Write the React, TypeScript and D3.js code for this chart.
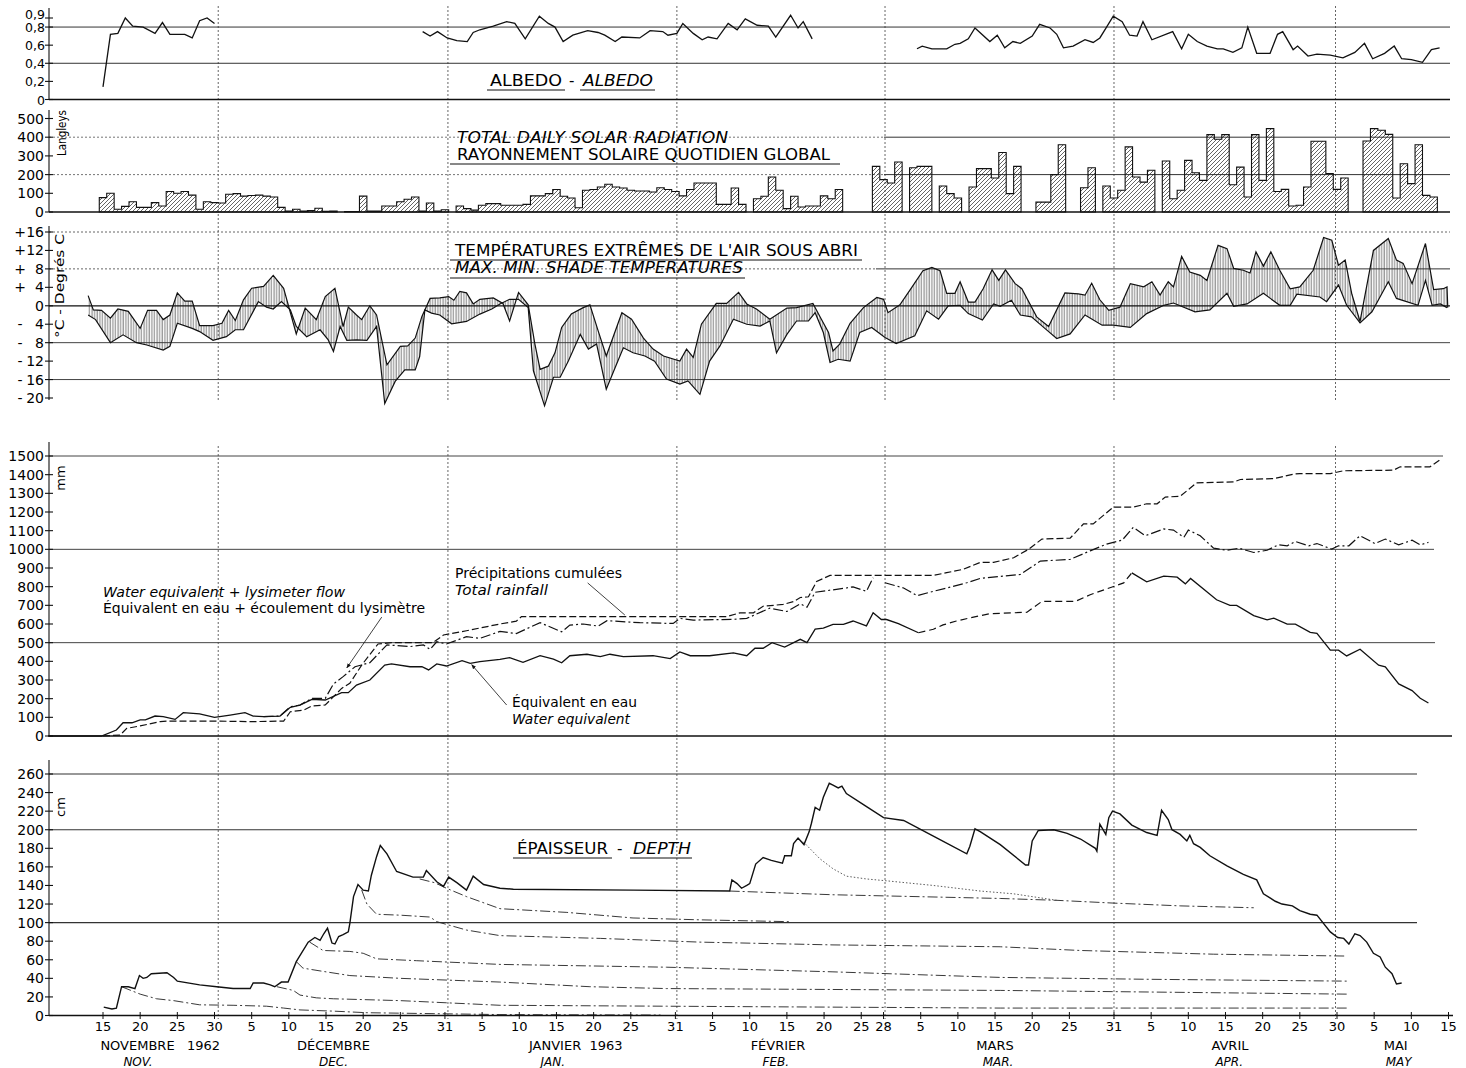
import React from 'react';
import * as d3 from 'd3';

type P = [number, number];

// ---------- ALBEDO ----------
const albedoNov: P[] = [[15,0.14],[16,0.72],[17,0.73],[18,0.9],[19,0.81],[20.4,0.8],[22,0.73],[23,0.85],[24,0.72],[26,0.72],[27,0.68],[28,0.87],[29,0.9],[30,0.84]];
const albedoDecFeb: P[] = [[58,0.75],[59,0.7],[60,0.75],[61.3,0.68],[62.6,0.65],[64,0.64],[64.8,0.74],[65.7,0.77],[67.5,0.81],[69.3,0.86],[70.4,0.84],[71.8,0.67],[73.7,0.92],[74.9,0.84],[75.8,0.8],[76.9,0.64],[78.2,0.71],[80.2,0.76],[81.6,0.74],[82.5,0.71],[83.9,0.64],[84.8,0.69],[87.2,0.68],[88.6,0.76],[90.3,0.75],[91,0.71],[92.2,0.73],[93,0.84],[94.4,0.73],[95.6,0.66],[96.4,0.69],[97.6,0.67],[99.1,0.84],[100.3,0.77],[101.4,0.89],[103,0.82],[104.5,0.81],[105.5,0.69],[107.5,0.93],[108.5,0.79],[109.2,0.86],[110.4,0.67]];
const albedoMarMay: P[] = [[124.5,0.56],[125.2,0.59],[126.5,0.56],[128.5,0.56],[129.6,0.61],[130.3,0.62],[131.4,0.67],[132.3,0.79],[134.3,0.64],[135.3,0.71],[136.3,0.57],[137.4,0.64],[138.4,0.62],[140,0.7],[141,0.83],[142.4,0.79],[143.3,0.72],[144.2,0.57],[145.5,0.59],[147.1,0.66],[148.2,0.63],[149.1,0.68],[150,0.8],[150.9,0.92],[152.1,0.86],[153.1,0.71],[154.1,0.7],[154.9,0.86],[156.1,0.66],[158.9,0.75],[160.1,0.56],[161,0.72],[162.2,0.64],[163.5,0.59],[164.9,0.56],[165.7,0.56],[167,0.52],[168.2,0.57],[169,0.8],[170.2,0.51],[172,0.51],[173,0.72],[173.7,0.75],[175.1,0.55],[175.7,0.59],[177.1,0.48],[178.3,0.5],[180.1,0.49],[181.8,0.46],[183.4,0.52],[184.7,0.62],[185.8,0.45],[187.4,0.51],[188.7,0.59],[189.7,0.45],[191,0.44],[192.5,0.41],[193.7,0.55],[194.8,0.57]];
const albedoTicks: [number, string][] = [[0,'0'],[0.2,'0,2'],[0.4,'0,4'],[0.6,'0,6'],[0.8,'0,8'],[0.9,'0,9']];

// ---------- SOLAR RADIATION (langleys, daily from day 15 = 15 Nov) ----------
const radFirstDay = 15;
const radiation: (number | null)[] = [
  77,100,15,30,55,25,25,50,32,110,
  100,110,90,15,55,50,48,95,98,85,
  88,90,85,80,25,5,15,5,8,20,
  4,5,null,2,3,85,5,5,32,32,
  55,68,80,5,48,5,12,null,32,18,
  10,36,45,45,36,36,36,41,86,86,
  98,120,84,75,23,116,120,134,148,134,
  128,116,112,112,107,130,120,110,86,120,
  155,155,155,41,41,128,41,null,71,84,
  187,116,18,84,27,32,32,86,71,120,
  null,null,null,null,244,173,155,267,null,237,
  244,244,null,139,98,75,null,134,232,232,
  182,318,98,244,null,null,53,53,200,360,
  null,null,130,237,null,139,75,116,348,187,
  160,223,null,273,71,116,276,210,169,414,
  389,414,146,240,80,414,169,446,110,121,
  32,36,134,378,378,205,121,182,null,null,
  380,446,437,415,75,258,152,360,89,80,
];
const radTicks = [0,100,200,300,400,500];

// ---------- TEMPERATURE (°C) ----------
const tMax: P[] = [[13,2.2],[13.7,-0.9],[14.8,-1],[16,-2.7],[17,-0.7],[18.4,-1.2],[20,-4.9],[21,-1],[22.2,-1],[23.1,-3],[24,-2],[25,2.8],[26,1],[27,1],[28,-4.3],[29.8,-4.3],[31,-3.8],[31.9,-1],[32.8,-3.2],[33.9,1.3],[35,3.8],[36.6,4.2],[37.9,6.6],[39.3,3.8],[41,-6.1],[42.2,-0.5],[43.7,-3],[44.9,2],[46.2,3.8],[47.3,-4.5],[48,-0.3],[49.1,-2],[49.8,-3],[50.9,0],[51.8,-2],[53.2,-12.8],[55,-8.8],[56,-8.7],[57,-7],[57.9,-2.3],[59,1.6],[60.3,1.7],[61.5,2],[62.2,1.2],[63,3.1],[63.9,2.8],[64.8,0.4],
  [65.7,1.4],[67.5,1.7],[68.8,0.5],[69.7,-3.3],[70.9,2.9],[72.2,0.2],[73.1,-8.3],[73.8,-13.8],[74.9,-13.1],[75.8,-10.2],[76.7,-4.7],[78,-1.8],[79.6,-0.4],[80.5,0.2],[81.6,-5.4],[82.7,-10.9],[84.8,-1.5],[86.1,-2.9],[87.7,-7],[89,-9.4],[90.4,-10.9],[92.6,-12],[93.5,-9.4],[94.4,-11.2],[95.5,-4],[97.5,0.5],[98.9,0.5],[100.5,2.9],[101.6,0.4],[102.9,-0.7],[104.7,-2.9],[107,-0.5],[108.3,-0.4],[110.5,0.5],[111.4,-2.2],[112.6,-5.8],[113.2,-9.8],[114.1,-8.3],[115.5,-3.8],[117.3,-0.4],[119.1,1.8],[120,1.4],[120.6,-1.5],[122.2,0.2],[123.8,4],[125.3,7.6],[126.5,8.3],[127.6,7.6],[128.5,2.7],[129.6,2.7],
  [130.3,5.2],[131.4,0.8],[132.3,0.8],[133.4,3.7],[134.6,7.8],[135.5,5.5],[136.4,7.8],[137.7,4.8],[138.6,3.7],[140.6,-2.4],[142.2,-4.5],[144.4,2.8],[146.2,2.6],[147.1,2.3],[148,4.9],[149.1,1.3],[150.3,-1],[151.8,-0.3],[153.2,4.8],[155,4.1],[156.1,5.2],[157.2,2.3],[158.3,5.2],[159,4.1],[160.1,10.7],[161.2,7.3],[162.6,6.6],[163.5,5.5],[165,13.1],[166.2,12.4],[167.1,8.1],[168.4,7.7],[169.3,7.1],[170.1,11.7],[171.1,8.6],[172.1,11.7],[173.3,7.7],[174.7,3.7],[176,4.1],[177.8,7.7],[179.2,14.8],[180.3,14.2],[181.2,8.8],[182.1,9.9],[183,2.5],[184.1,-3.4],[185.9,12],[187.9,14.6],[189,9.9],[189.9,9.2],[191.1,4.8],[192.9,13.5],[194,3.5],[195.3,3.7],[195.8,4.1],[195.9,-0.4]];
const tMin: P[] = [[13,-2],[14,-3],[16,-8],[17.7,-6.3],[19.5,-8],[20.9,-8.5],[23.1,-9.6],[24,-8.8],[25,-3.8],[27,-4.9],[28,-5.6],[29.8,-7.5],[31.6,-6.7],[32.8,-5.2],[33.9,-5.2],[35.9,0.9],[37,-0.3],[37.9,-0.7],[39,0.9],[40.2,-0.9],[41,-4.5],[42.4,-6.7],[44.2,-5.2],[45.3,-7.4],[46,-9.9],[46.9,-4.5],[47.8,-7.5],[49.1,-7.4],[50.5,-7.5],[51.8,-4.5],[52.9,-21.2],[54.3,-16.4],[55.6,-13.9],[57,-13.9],[57.6,-11],[58.3,-0.9],[59.2,-1.6],[60.3,-2],[61.9,-3.9],[63.9,-3.4],[65.7,-1.8],
  [67.3,-0.7],[68.4,0.4],[69.7,1.4],[70.9,1.4],[72.2,-0.4],[72.9,-14.1],[74.4,-21.7],[75.6,-15.5],[76.5,-15.5],[77.6,-12],[79.2,-6.2],[80.3,-9.4],[81.4,-8.3],[82.7,-18.1],[83.9,-13.4],[85,-9.1],[86.3,-10.2],[87.9,-10.9],[89.2,-12],[90.8,-15.9],[92.6,-17],[93.7,-16.3],[95.3,-19.2],[96.6,-12],[98,-8.7],[99.8,-2.9],[101.6,-4],[103.4,-4.4],[104.7,-3.3],[105.6,-10.2],[107,-6.2],[108.3,-3.3],[109.9,-3.3],[110.8,-1.5],[111.9,-5.8],[112.8,-12.3],[113.9,-11.6],[115.5,-12],[116.8,-5.8],[118.4,-4.7],[120.2,-6.9],[121.7,-8.2],[124.2,-6.5],[125.8,-1.1],[127.4,-2.9],[128.7,0],[130.3,0.1],
  [131.4,-1.7],[133.3,-3.1],[134.8,0.4],[135.7,-0.1],[137.2,1.2],[138.4,-2],[139.9,-2.4],[141.7,-4.9],[143.3,-7.1],[145.1,-6.1],[147.1,-2],[149.4,-4.2],[150.9,-4.2],[153.2,-4.7],[155.4,-1.7],[157.7,0.1],[159,0.6],[161.9,-1.3],[163.9,-0.9],[166.2,2.7],[167.1,-0.1],[168.9,0.4],[171.1,2.7],[173.3,0.1],[174.7,0.1],[175.6,2.5],[178.7,1.9],[179.6,0.9],[181.2,4.5],[182.3,0.1],[184.1,-3.7],[185.7,-1.3],[187.9,5.2],[189,1.6],[191.9,0.1],[192.9,5.5],[193.8,0.1],[194.9,0.4],[195.8,-0.4]];
const tempTicks: [number, string, string][] = [[16,'+','16'],[12,'+','12'],[8,'+','8'],[4,'+','4'],[0,'','0'],[-4,'-','4'],[-8,'-','8'],[-12,'-','12'],[-16,'-','16'],[-20,'-','20']];

// ---------- CUMULATIVE WATER (mm) ----------
const precipCum: P[] = [[15,0],[17.3,5],[18.2,41],[20,54],[22.7,77],[23.6,80],[29.8,80],[35.2,77],[39.3,80],[40.2,130],[42,139],[43.1,161],[44.9,166],[47.1,255],[48.2,282],[49.8,380],[52,493],[53.8,500],[59.4,500],[60.8,541],[63.9,564],[68.4,600],[70.6,615],[71.3,640],[77.4,640],[98.9,640],[100.7,660],[102.5,660],[103.8,695],[106.5,705],[107.9,720],[108.8,742],[109.9,746],[111,828],[112.8,860],[126.7,860],[128.5,875],[130.7,893],[133,930],[134.8,930],[137.5,955],[139.5,1000],[141.3,1055],[145.1,1060],[146.9,1136],[148.2,1136],[150.9,1226],[153.6,1226],[155.4,1244],[156.8,1244],[157.9,1280],[159.9,1284],[162.1,1356],[167.1,1361],[168,1374],[172.5,1379],[175.2,1403],[176,1406],[180.1,1406],[181.9,1421],[188.6,1424],[189.5,1442],[193.5,1442],[195.1,1487]];
const lysimeterA: P[] = [[36.6,104],[38.8,107],[40.2,157],[41.5,166],[43.1,202],[44.9,202],[46,279],[47.3,318],[48.9,371],[50.9,393],[53.2,488],[56.3,479],[58.1,488],[59,464],[59.9,505],[61.2,493],[63.9,532],[65.7,523],[68.4,560],[70.6,549],[73.8,607],[76.7,558],[77.8,594],[79.6,600],[81.6,589],[82.8,618],[87.2,607],[91.7,603],[92.6,630],[94.4,621],[99.8,625],[101.6,630],[104.7,685],[107,667],[108.8,708],[109.7,690],[110.8,770],[115,793],[115.9,799],[117.7,775],[118.6,848]];
const lysimeterB: P[] = [[120.2,821],[122.7,793],[124.5,752],[126.7,775],[128.5,793],[131.2,821],[133,844],[135.7,855],[138.4,865],[141.1,937],[145.1,946],[147.8,992],[150,1028],[152.1,1049],[153.6,1118],[155.2,1073],[157.7,1109],[159,1103],[160.4,1064],[161,1103],[162.6,1073],[164.4,1006],[166.2,995],[167.8,1006],[169.8,983],[171.6,995],[173.1,1024],[174.3,1019],[175.4,1042],[177.2,1019],[178.3,1031],[180.3,1001],[181.2,1019],[182.6,1019],[184.1,1073],[186.1,1031],[187.5,1055],[189.3,1024],[191.1,1049],[192.2,1024],[193.3,1037]];
const waterEqA: P[] = [[7.6,0],[14.8,0],[16.8,32],[17.7,71],[18.9,71],[20,86],[20.7,86],[22,107],[23.1,104],[24.7,89],[25.8,125],[28,118],[30,100],[32.1,112],[34.1,125],[35.2,107],[36.6,104],[38.8,107],[40.2,154],[41.5,166],[43.1,196],[44.9,193],[47.1,232],[48,232],[49.1,273],[50.9,300],[52.9,380],[53.8,386],[56.3,371],[57.9,371],[58.8,354],[59.9,386],[61.2,375],[63.3,404],[64.4,389],[65.7,398],[68.4,410],[69.7,420],[71.5,395],[73.8,430],[75.6,412],[76.7,392],[77.8,430],[80.1,438],[81.9,425],[83.2,438],[85,425],[89,430],[91.3,415],[92.6,450],[94,430],[96.6,430],[99.8,445],[101.6,430],[102.7,470],[103.8,470],[105,500],[106.7,476],[108.8,518],[109.7,500],[110.8,572],[111.9,578],[113.2,598],[114.6,598],[115.9,616],[117.7,590],[118.6,660],[119.7,624],[120.4,624],[122,602],[124.7,553]];
const waterEqEstimated: P[] = [[124.7,553],[126.7,572],[128,595],[129.8,616],[132.1,637],[134.3,655],[139.3,663],[141.3,721],[145.8,721],[147.8,757],[152.3,820],[153.4,874]];
const waterEqB: P[] = [[153.4,874],[155.4,826],[157.7,856],[159.5,851],[160.6,815],[161.3,844],[164.8,730],[166.6,700],[167.5,700],[169.8,645],[171.6,622],[172.5,631],[174.3,599],[175.4,599],[177.4,555],[178.3,550],[180.1,460],[181.2,460],[182.3,429],[184.1,465],[186.6,379],[187.5,370],[189.3,279],[191.1,243],[192.2,202],[193.3,177]];
const mmTicks = d3.range(0, 1501, 100);

// ---------- SNOW DEPTH (cm) ----------
const depth: P[] = [[15.1,9],[16.2,7],[16.8,8],[17.5,31],[18.4,31],[19.3,29],[19.9,43],[20.4,40],[20.9,41],[21.5,45],[23.6,46],[24.5,41],[25,37],[28,33],[30.3,31],[32.5,29],[34.8,29],[35.2,35],[36.6,35],[37.5,33],[38.1,31],[39,36],[39.9,36],[41,58],[42.6,79],[43.5,84],[44.2,81],[44.7,88],[45.2,94],[45.8,78],[46.2,77],[46.7,85],[47.3,87],[48,90],[48.2,99],[48.7,128],[49.3,141],[50,135],[50.7,134],[51.1,151],[51.8,171],[52.3,183],[53.2,174],[54.5,155],[56.7,149],[58.1,149],[58.5,156],[59.9,144],[60.8,139],[61.5,149],[62.6,143],[63.9,135],[64.8,150],[66.2,141],[68.4,137],[70.2,136],[86.3,135],[99.3,134],[99.6,146],[100.3,142],[100.9,137],[101.6,140],[102,142],[102.8,163],[103.8,170],[104.9,167],[106.4,164],[106.7,172],[107.6,172],[107.9,185],[108.5,191],[109.3,184],[110,198],[110.3,207],[110.8,224],[111.4,221],[111.9,235],[112.7,250],[113.2,248],[113.9,245],[114.4,247],[115,239],[117.3,227],[120,213],[122.7,210],[126.7,193],[131.2,174],[131.6,182],[132.3,201],[133,198],[135.7,184],[139.1,162],[139.5,162],[140,188],[140.8,199],[142.9,200],[144.7,196],[146.5,190],[148.5,180],[148.7,177],[149.1,206],[149.9,195],[150.3,213],[150.8,220],[151.8,217],[153.4,205],[155.4,197],[156.8,194],[157.4,221],[158.3,211],[158.8,200],[159.9,195],[160.8,188],[161.2,194],[161.7,185],[162.6,181],[163.9,172],[166.2,161],[168.4,152],[170.2,146],[171.1,131],[172.7,123],[173.6,120],[175,118],[176,113],[177.4,109],[178.3,108],[180.1,90],[181.1,84],[181.9,83],[182.6,77],[183.4,88],[184.1,86],[185,79],[185.9,67],[186.8,63],[187.5,52],[188.4,45],[189,34],[189.7,35]];
const layerFeb17: P[] = [[109.2,187],[111.4,169],[113.2,158],[115,150],[117.7,147],[120.4,145],[126.7,140],[133,134],[137.5,131],[143.3,124]];
const layerJan: P[] = [[99.3,134],[113.2,130],[135.7,126],[143.3,124],[151,121],[160,118],[169.8,116]];
const layerDec28: P[] = [[57.6,147],[59.6,143],[61.2,137],[63.9,128],[68.4,115],[77.4,111],[86.3,105],[95.3,103],[107.4,101]];
const layerDec20: P[] = [[49.8,135],[50.5,120],[51.8,109],[55,108],[59,106],[59.9,101],[63.9,92],[68.4,86],[81.9,83],[95.3,79],[113.2,76],[135.7,74],[146.5,70],[164.4,66],[182.3,64]];
const layerDec13: P[] = [[42.8,79],[44.6,70],[48.2,69],[50,67],[51.8,61],[57.2,59],[68.4,55],[90.8,52],[113.2,47],[135.7,41],[155.4,39],[182.3,37]];
const layerDec11: P[] = [[41,58],[41.9,51],[44.2,48],[48.2,43],[55,40],[68.4,36],[80.5,31],[90.8,29],[135.7,27],[182.3,23]];
const layerDec8: P[] = [[38.4,31],[40.6,27],[41.5,22],[43.7,19],[46,18],[55,16],[68.4,11],[90.8,10],[135.7,8],[182.3,8]];
const layerNov17: P[] = [[17.5,31],[20,23],[22.2,18],[24.5,16],[28,11.5],[32.5,11],[37,10],[39.3,8],[41.5,6],[46,4.7],[50.5,3],[59.4,2],[68.4,1],[90,0.5]];
const cmTicks = d3.range(0, 261, 20);

// ---------- TIME AXIS (day 1 = 1 Nov 1962) ----------
const monthEnds = [30.5, 61.4, 92.2, 120.2, 151, 180.8];
const dayTicks: [number, string][] = [[15,'15'],[20,'20'],[25,'25'],[30,'30'],[35,'5'],[40,'10'],[45,'15'],[50,'20'],[55,'25'],[61,'31'],[66,'5'],[71,'10'],[76,'15'],[81,'20'],[86,'25'],[92,'31'],[97,'5'],[102,'10'],[107,'15'],[112,'20'],[117,'25'],[120,'28'],[125,'5'],[130,'10'],[135,'15'],[140,'20'],[145,'25'],[151,'31'],[156,'5'],[161,'10'],[166,'15'],[171,'20'],[176,'25'],[181,'30'],[186,'5'],[191,'10'],[196,'15']];
const monthNames: [number, string][] = [[22.7,'NOVEMBRE   1962'],[46,'DÉCEMBRE'],[78.6,'JANVIER  1963'],[105.8,'FÉVRIER'],[135,'MARS'],[166.6,'AVRIL'],[188.9,'MAI']];
const monthNamesEn: [number, string][] = [[19.7,'NOV.'],[46,'DEC.'],[75.5,'JAN.'],[105.5,'FEB.'],[135.4,'MAR.'],[166.5,'APR.'],[189.3,'MAY']];

const FONT = "'DejaVu Sans', 'Liberation Sans', sans-serif";

export default function App() {
  const x = d3.scaleLinear().domain([15, 181]).range([103, 1337]);
  const yAlb = d3.scaleLinear().domain([0, 0.9]).range([99.5, 18]);
  const yRad = d3.scaleLinear().domain([0, 500]).range([212, 118.5]);
  const yT = d3.scaleLinear().domain([-20, 16]).range([398, 232]);
  const yMm = d3.scaleLinear().domain([0, 1500]).range([736, 456]);
  const yCm = d3.scaleLinear().domain([0, 260]).range([1015.5, 774]);
  const AX = 49;

  const mk = (ys: d3.ScaleLinear<number, number>) => d3.line<P>().x(p => x(p[0])).y(p => ys(p[1]));
  const lAlb = mk(yAlb), lT = mk(yT), lMm = mk(yMm), lCm = mk(yCm);

  const runs: { d0: number; vals: number[] }[] = [];
  let cur: { d0: number; vals: number[] } | null = null;
  radiation.forEach((v, i) => {
    const d = radFirstDay + i;
    if (v == null) { cur = null; return; }
    if (!cur) { cur = { d0: d, vals: [] }; runs.push(cur); }
    cur.vals.push(v);
  });
  const y0 = yRad(0);
  const runPaths = runs.map(r => {
    let s = `M${x(r.d0 - 0.5)},${y0}`;
    r.vals.forEach((v, k) => { s += `V${yRad(v)}H${x(r.d0 + k + 0.5)}`; });
    return s + `V${y0}Z`;
  });

  const band = `${lT(tMax)}L${(lT([...tMin].reverse()) as string).slice(1)}Z`;

  const leftAxis = (ys: d3.ScaleLinear<number, number>, top: number, bottom: number, ticks: number[]) => (
    <g stroke="#111" strokeWidth={1.1}>
      <line x1={AX} y1={top} x2={AX} y2={bottom} />
      {ticks.map(t => <line key={t} x1={AX - 4} x2={AX + 4} y1={ys(t)} y2={ys(t)} />)}
    </g>
  );
  const hline = (yv: number, x1: number, x2: number, dash?: string, color = '#333', w = 1) =>
    <line x1={x1} x2={x2} y1={yv} y2={yv} stroke={color} strokeWidth={w} strokeDasharray={dash} />;

  const dashDot = '10,3,2,3';
  const layerStyle = { fill: 'none', stroke: '#222', strokeWidth: 0.9, strokeDasharray: dashDot };
  const tickFs = 14;

  return (
    <svg width={1466} height={1068} style={{ position: 'absolute', left: 0, top: 0, background: '#fff' }} fontFamily={FONT}>
      <defs>
        <pattern id="hatchDiag" width={4} height={4} patternUnits="userSpaceOnUse">
          <path d="M-1,1 l2,-2 M0,4 l4,-4 M3,5 l2,-2" stroke="#222" strokeWidth={0.7} />
        </pattern>
        <pattern id="hatchVert" width={2.6} height={4} patternUnits="userSpaceOnUse">
          <line x1={1} y1={0} x2={1} y2={4} stroke="#333" strokeWidth={0.7} />
        </pattern>
        <marker id="arr" viewBox="0 0 10 10" refX={9} refY={5} markerWidth={6} markerHeight={6} orient="auto">
          <path d="M0,1 L10,5 L0,9 Z" fill="#111" />
        </marker>
      </defs>
      <rect x={0} y={0} width={1466} height={1068} fill="#fff" />

      {monthEnds.map(m => (
        <g key={m} stroke="#555" strokeWidth={0.9} strokeDasharray="2,2">
          <line x1={x(m)} x2={x(m)} y1={6} y2={402} />
          <line x1={x(m)} x2={x(m)} y1={446} y2={1019} />
        </g>
      ))}

      {/* ===== ALBEDO ===== */}
      {hline(yAlb(0.8), AX, 1450, undefined, '#333', 1)}
      {hline(yAlb(0.4), AX, 1450, undefined, '#333', 1)}
      {hline(yAlb(0), AX, 1450, undefined, '#111', 1.3)}
      {leftAxis(yAlb, 8, yAlb(0), albedoTicks.map(t => t[0]))}
      {albedoTicks.map(([v, s]) => <text key={s} x={45} y={v === 0.9 ? yAlb(v) + 1 : yAlb(v) + 5} textAnchor="end" fontSize={12.5}>{s}</text>)}
      {[albedoNov, albedoDecFeb, albedoMarMay].map((seg, i) => <path key={i} d={lAlb(seg) || ''} fill="none" stroke="#111" strokeWidth={1.3} />)}
      <text x={490} y={86} fontSize={15} textLength={72} lengthAdjust="spacingAndGlyphs">ALBEDO</text>
      <text x={569} y={86} fontSize={15}>-</text>
      <text x={583} y={86} fontSize={15} fontStyle="italic" textLength={70} lengthAdjust="spacingAndGlyphs">ALBEDO</text>
      {hline(90, 487, 565, undefined, '#111', 1)}
      {hline(90, 580, 655, undefined, '#111', 1)}

      {/* ===== SOLAR RADIATION ===== */}
      {hline(yRad(400), AX, 884, '2,2', '#666', 0.9)}
      {hline(yRad(200), AX, 884, '2,2', '#666', 0.9)}
      {hline(yRad(400), 884, 1450, undefined, '#333', 1)}
      {hline(yRad(200), 884, 1450, undefined, '#333', 1)}
      {runPaths.map((p, i) => <path key={i} d={p} fill="url(#hatchDiag)" stroke="#111" strokeWidth={1.1} />)}
      {hline(yRad(0), AX, 1450, undefined, '#111', 1.3)}
      {leftAxis(yRad, 110, yRad(0), radTicks)}
      {radTicks.map(v => <text key={v} x={44} y={yRad(v) + 5} textAnchor="end" fontSize={tickFs}>{v}</text>)}
      <text transform="translate(66,133) rotate(-90)" textAnchor="middle" fontSize={12} textLength={46} lengthAdjust="spacingAndGlyphs">Langleys</text>
      <text x={457} y={143} fontSize={15} fontStyle="italic" textLength={271} lengthAdjust="spacingAndGlyphs">TOTAL DAILY SOLAR RADIATION</text>
      <text x={457} y={160} fontSize={15} textLength={373} lengthAdjust="spacingAndGlyphs">RAYONNEMENT SOLAIRE QUOTIDIEN GLOBAL</text>
      {hline(164, 450, 840, undefined, '#111', 1)}

      {/* ===== TEMPERATURE ===== */}
      {hline(yT(16), AX, 1450, '2,2', '#555', 0.9)}
      {hline(yT(8), AX, 876, '2,2', '#555', 0.9)}
      {hline(yT(8), 876, 1450, undefined, '#333', 1)}
      {hline(yT(-8), AX, 1450, undefined, '#444', 1)}
      {hline(yT(-16), AX, 1450, undefined, '#444', 1)}
      <path d={band} fill="url(#hatchVert)" stroke="none" />
      <path d={lT(tMax) || ''} fill="none" stroke="#111" strokeWidth={1.2} />
      <path d={lT(tMin) || ''} fill="none" stroke="#111" strokeWidth={1.2} />
      {hline(yT(0), AX, 1450, undefined, '#111', 1.3)}
      {leftAxis(yT, 226, 400, tempTicks.map(t => t[0]))}
      {tempTicks.map(([v, sgn, n]) => (
        <g key={v} fontSize={tickFs}>
          {sgn && <text x={20} y={yT(v) + 5} textAnchor="middle">{sgn}</text>}
          <text x={44} y={yT(v) + 5} textAnchor="end">{n}</text>
        </g>
      ))}
      <text transform="translate(64,286) rotate(-90)" textAnchor="middle" fontSize={13} textLength={104} lengthAdjust="spacingAndGlyphs">°C - Degrés C</text>
      <text x={455} y={256} fontSize={15} textLength={403} lengthAdjust="spacingAndGlyphs">TEMPÉRATURES EXTRÊMES DE L'AIR SOUS ABRI</text>
      {hline(260, 450, 862, undefined, '#111', 1)}
      <text x={455} y={273} fontSize={15} fontStyle="italic" textLength={288} lengthAdjust="spacingAndGlyphs">MAX. MIN. SHADE TEMPERATURES</text>
      {hline(278, 450, 745, undefined, '#111', 1)}

      {/* ===== CUMULATIVE mm ===== */}
      {hline(yMm(1500), AX, 1443, undefined, '#444', 1)}
      {hline(yMm(1000), AX, 1434, undefined, '#444', 1)}
      {hline(yMm(500), AX, 1435, undefined, '#444', 1)}
      {hline(yMm(0), AX, 1452, undefined, '#111', 1.3)}
      {leftAxis(yMm, 442, yMm(0), mmTicks)}
      {mmTicks.map(v => <text key={v} x={44} y={yMm(v) + 5} textAnchor="end" fontSize={tickFs}>{v}</text>)}
      <text transform="translate(65,478) rotate(-90)" textAnchor="middle" fontSize={13}>mm</text>
      <path d={lMm(precipCum) || ''} fill="none" stroke="#111" strokeWidth={1.2} strokeDasharray="7,3" />
      <path d={lMm(lysimeterA) || ''} fill="none" stroke="#111" strokeWidth={1.2} strokeDasharray={dashDot} />
      <path d={lMm(lysimeterB) || ''} fill="none" stroke="#111" strokeWidth={1.2} strokeDasharray={dashDot} />
      <path d={lMm(waterEqA) || ''} fill="none" stroke="#111" strokeWidth={1.3} />
      <path d={lMm(waterEqEstimated) || ''} fill="none" stroke="#111" strokeWidth={1.2} strokeDasharray="7,4" />
      <path d={lMm(waterEqB) || ''} fill="none" stroke="#111" strokeWidth={1.3} />
      <text x={103} y={597} fontSize={14} fontStyle="italic" textLength={242} lengthAdjust="spacingAndGlyphs">Water equivalent + lysimeter flow</text>
      <text x={103} y={613} fontSize={14} textLength={322} lengthAdjust="spacingAndGlyphs">Équivalent en eau + écoulement du lysimètre</text>
      <line x1={x(52.5)} y1={yMm(637)} x2={x(47.8)} y2={yMm(365)} stroke="#111" strokeWidth={0.8} markerEnd="url(#arr)" />
      <text x={455} y={578} fontSize={14} textLength={167} lengthAdjust="spacingAndGlyphs">Précipitations cumulées</text>
      <text x={455} y={595} fontSize={14} fontStyle="italic" textLength={93} lengthAdjust="spacingAndGlyphs">Total rainfall</text>
      <line x1={x(80.2)} y1={yMm(820)} x2={x(85.2)} y2={yMm(648)} stroke="#111" strokeWidth={0.8} />
      <text x={512} y={707} fontSize={14} textLength={125} lengthAdjust="spacingAndGlyphs">Équivalent en eau</text>
      <text x={512} y={724} fontSize={14} fontStyle="italic" textLength={118} lengthAdjust="spacingAndGlyphs">Water equivalent</text>
      <line x1={x(69.3)} y1={yMm(166)} x2={x(64.6)} y2={yMm(382)} stroke="#111" strokeWidth={0.8} markerEnd="url(#arr)" />

      {/* ===== SNOW DEPTH cm ===== */}
      {hline(yCm(260), AX, 1417, undefined, '#333', 1.1)}
      {hline(yCm(200), AX, 1417, undefined, '#333', 1.1)}
      {hline(yCm(100), AX, 1417, undefined, '#333', 1.1)}
      {[layerJan, layerDec28, layerDec20, layerDec13, layerDec11, layerDec8, layerNov17].map((l, i) =>
        <path key={i} d={lCm(l) || ''} {...layerStyle} />)}
      <path d={lCm(layerFeb17) || ''} fill="none" stroke="#333" strokeWidth={0.8} strokeDasharray="1.5,2" />
      <path d={lCm(depth) || ''} fill="none" stroke="#111" strokeWidth={1.4} />
      {hline(yCm(0), AX, 1453, undefined, '#111', 1.3)}
      {leftAxis(yCm, 760, yCm(0), cmTicks)}
      {cmTicks.map(v => <text key={v} x={44} y={yCm(v) + 5} textAnchor="end" fontSize={tickFs}>{v}</text>)}
      <text transform="translate(65,807) rotate(-90)" textAnchor="middle" fontSize={13}>cm</text>
      <text x={517} y={854} fontSize={15} textLength={91} lengthAdjust="spacingAndGlyphs">ÉPAISSEUR</text>
      <text x={617} y={854} fontSize={15}>-</text>
      <text x={633} y={854} fontSize={15} fontStyle="italic" textLength={58} lengthAdjust="spacingAndGlyphs">DEPTH</text>
      {hline(858, 513, 612, undefined, '#111', 1)}
      {hline(858, 630, 692, undefined, '#111', 1)}

      {/* ===== TIME AXIS ===== */}
      {dayTicks.map(([d, s]) => (
        <g key={d}>
          <line x1={x(d)} x2={x(d)} y1={1012} y2={1019} stroke="#111" strokeWidth={1} />
          <text x={x(d)} y={1031} textAnchor="middle" fontSize={13}>{s}</text>
        </g>
      ))}
      {monthNames.map(([d, s]) => <text key={s} x={x(d)} y={1050} textAnchor="middle" fontSize={13} style={{ whiteSpace: 'pre' }}>{s}</text>)}
      {monthNamesEn.map(([d, s]) => <text key={s} x={x(d)} y={1066} textAnchor="middle" fontSize={12} fontStyle="italic">{s}</text>)}
    </svg>
  );
}
